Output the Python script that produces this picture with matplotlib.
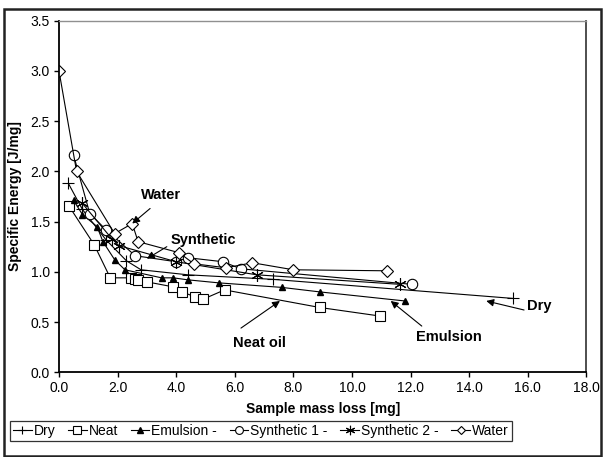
import matplotlib
matplotlib.use('Agg')
import matplotlib.pyplot as plt
from matplotlib.patches import Rectangle
from matplotlib.ticker import FormatStrFormatter

plt.rcParams['font.family'] = ['Liberation Sans', 'DejaVu Sans']

# data
dry_x = [0.32, 0.8, 1.6, 2.3, 2.8, 4.4, 7.3, 15.5]
dry_y = [1.88, 1.62, 1.32, 1.11, 1.02, 0.97, 0.925, 0.735]

neat_x = [0.35, 1.2, 1.75, 2.45, 2.6, 2.7, 3.0, 3.9, 4.2, 4.65, 4.9, 5.65, 8.9, 10.95]
neat_y = [1.65, 1.27, 0.94, 0.94, 0.93, 0.92, 0.90, 0.85, 0.80, 0.75, 0.725, 0.82, 0.645, 0.56]

emul_x = [0.5, 0.8, 1.3, 1.5, 1.9, 2.25, 3.5, 3.9, 4.4, 5.45, 7.6, 8.9, 11.8]
emul_y = [1.71, 1.57, 1.45, 1.30, 1.12, 1.02, 0.94, 0.94, 0.92, 0.89, 0.845, 0.80, 0.71]

syn1_x = [0.5, 1.05, 1.6, 2.6, 4.0, 4.4, 5.6, 6.2, 12.05]
syn1_y = [2.16, 1.58, 1.42, 1.16, 1.10, 1.14, 1.10, 1.03, 0.875]

syn2_x = [0.8, 1.8, 2.05, 4.0, 6.75, 11.65]
syn2_y = [1.68, 1.33, 1.26, 1.10, 0.97, 0.875]

water_x = [0.0, 0.6, 1.9, 2.5, 2.7, 4.1, 4.6, 5.7, 6.6, 8.0, 11.2]
water_y = [3.0, 2.0, 1.38, 1.48, 1.3, 1.19, 1.08, 1.04, 1.09, 1.02, 1.01]

# (label, text position, arrow tail, arrow head)
notes = [
    ("Water", (3.50, 1.76), (3.11, 1.63), (2.5, 1.48)),
    ("Synthetic", (4.93, 1.315), (3.68, 1.25), (3.0, 1.13)),
    ("Neat oil", (6.84, 0.29), (6.21, 0.44), (7.54, 0.71)),
    ("Emulsion", (13.31, 0.35), (12.38, 0.46), (11.32, 0.71)),
    ("Dry", (16.39, 0.66), (15.87, 0.62), (14.58, 0.71)),
]

fig = plt.figure(figsize=(6.03, 4.57), dpi=100)
ax = fig.add_axes([0.0978, 0.1853, 0.8748, 0.7698])

line_kw = dict(color='black', lw=0.8)
ax.plot(dry_x, dry_y, marker='+', ms=8, mew=0.8, label='Dry', **line_kw)
ax.plot(neat_x, neat_y, marker='s', ms=7, mfc='white', mew=0.8, label='Neat', **line_kw)
ax.plot(emul_x, emul_y, marker='^', ms=5, mfc='black', label='Emulsion -', **line_kw)
ax.plot(syn1_x, syn1_y, marker='o', ms=7.5, mfc='white', mew=0.8, label='Synthetic 1 -', **line_kw)
ax.plot(syn2_x, syn2_y, marker=(6, 2, 0), ms=9, mew=0.8, label='Synthetic 2 -', **line_kw)
ax.plot(water_x, water_y, marker='D', ms=6, mfc='white', mew=0.8, label='Water', **line_kw)

for text, txt_pos, tail, head in notes:
    ax.annotate('', xy=head, xytext=tail,
                arrowprops=dict(arrowstyle='-|>', color='black', lw=0.8,
                                mutation_scale=11, shrinkA=0, shrinkB=0))
    ax.text(*txt_pos, text, ha='center', va='center', fontsize=10.5, fontweight='bold')

ax.set_xlim(0, 18)
ax.set_ylim(0, 3.5)
ax.set_xticks([i * 2.0 for i in range(10)])
ax.set_yticks([i * 0.5 for i in range(8)])
ax.xaxis.set_major_formatter(FormatStrFormatter('%.1f'))
ax.yaxis.set_major_formatter(FormatStrFormatter('%.1f'))
ax.tick_params(direction='out', length=3.5, width=1, labelsize=10, pad=3)

ax.spines['left'].set_linewidth(1.3)
ax.spines['bottom'].set_linewidth(1.3)
ax.spines['top'].set_color('#909090')
ax.spines['top'].set_linewidth(1.0)
ax.spines['right'].set_color('#404040')
ax.spines['right'].set_linewidth(1.3)

ax.set_xlabel('Sample mass loss [mg]', fontsize=10, fontweight='bold', labelpad=5)
ax.set_ylabel('Specific Energy [J/mg]', fontsize=10, fontweight='bold', labelpad=6)

leg = fig.legend(loc='lower left', bbox_to_anchor=(0.0166, 0.035), ncol=6,
                 fontsize=10, frameon=True, fancybox=False, borderaxespad=0,
                 handlelength=1.35, handletextpad=0.15, columnspacing=0.9,
                 borderpad=0.2, markerscale=0.75)
leg.get_frame().set_edgecolor('black')
leg.get_frame().set_linewidth(0.9)

fig.patches.append(Rectangle((4 / 603, 1 / 457), 597 / 603, 447.5 / 457,
                             transform=fig.transFigure, fill=False,
                             edgecolor='#222222', lw=1.8))

fig.savefig('out.png', dpi=100)
